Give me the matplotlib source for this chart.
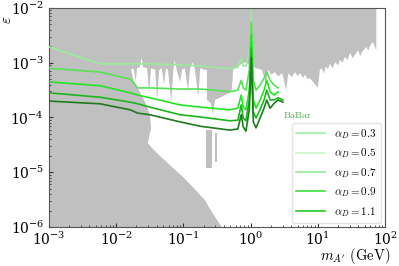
import numpy as np
import matplotlib
matplotlib.use("Agg")
import matplotlib.pyplot as plt
from matplotlib.lines import Line2D

plt.rcParams['mathtext.fontset'] = 'cm'
plt.rcParams['font.family'] = ['DejaVu Serif']

# Excluded region (grey) outline, log10 of mass [GeV] and log10 of epsilon
excl_log_m = [-3.00, -3.00, -0.43, -0.56, -0.68, -0.86, -1.02, -1.20, -1.35, -1.45, -1.53,
              -1.48, -1.50, -1.56, -1.65, -1.74, -1.78,
              -1.74, -1.71, -1.69, -1.65, -1.62, -1.60, -1.54, -1.51, -1.48, -1.42, -1.39,
              -1.36, -1.32, -1.29, -1.26, -1.23, -1.18, -1.15, -1.13, -1.10, -1.05, -1.02,
              -0.98, -0.93, -0.90, -0.86, -0.83, -0.78, -0.75, -0.69, -0.65, -0.65, -0.59,
              -0.56, -0.53, -0.46, -0.38, -0.32, -0.28, -0.26, -0.19, -0.08, -0.01, 0.08,
              0.17, 0.23,
              0.26, 0.31, 0.36, 0.41, 0.47, 0.53, 0.56, 0.61, 0.66, 0.70, 0.74, 0.78, 0.81,
              0.85, 0.88, 0.93, 0.97, 1.00,
              1.03, 1.06, 1.09, 1.12, 1.15, 1.18, 1.22, 1.26, 1.30, 1.33, 1.37, 1.40, 1.44,
              1.48, 1.52, 1.55, 1.60, 1.63, 1.66, 1.72, 1.75, 1.78, 1.82, 1.87, 1.87]
excl_log_eps = [-2.00, -6.00, -6.00, -5.76, -5.51, -5.27, -5.07, -4.87, -4.70, -4.58, -4.47,
                -4.19, -3.95, -3.74, -3.53, -3.32, -3.13,
                -3.10, -3.35, -3.10, -3.08, -2.91, -3.08, -3.10, -3.55, -3.10, -3.13, -3.68,
                -3.13, -3.10, -3.41, -3.10, -3.13, -3.72, -3.13, -2.95, -3.13, -3.35, -3.13,
                -3.10, -3.50, -3.10, -2.99, -3.10, -3.64, -3.10, -3.13, -3.13, -3.68, -3.74,
                -3.95, -3.68, -3.64, -3.59, -3.55, -3.50, -3.13, -3.06, -2.99, -3.04, -3.10,
                -3.13, -3.41,
                -3.13, -3.22, -3.17, -3.25, -3.19, -3.50, -3.19, -3.26, -3.17, -3.24, -3.19,
                -3.28, -3.22, -3.30, -3.28, -3.35, -3.41, -3.46,
                -3.13, -3.10, -3.20, -3.06, -3.12, -3.02, -3.10, -2.99, -3.05, -2.95, -3.00,
                -2.89, -2.95, -2.82, -2.92, -2.86, -2.77, -2.88, -2.80, -2.71, -2.78, -2.68,
                -2.62, -2.77, -2.00]

# small isolated excluded stripes
stripe_log_m = [(-0.66, -0.57), (-0.53, -0.50)]
stripe_log_eps = [(-4.92, -4.23), (-4.81, -4.28)]

# Sensitivity curves
curve_log_m = [-3.00, -2.24, -1.79, -1.68, -1.50, -1.05, -0.75, -0.31, -0.19, -0.14, -0.11,
               -0.07, -0.02, 0.01, 0.04, 0.08, 0.14, 0.20, 0.24, 0.29, 0.35, 0.41, 0.48]
c03 = [-2.71, -3.02, -3.02, -3.02, -3.02, -3.04, -3.06, -3.11, -3.08, -2.91, -3.06, -3.06,
       -2.77, -2.04]
c05 = [-3.10, -3.17, -3.30, -3.46, -3.46, -3.48, -3.48, -3.53, -3.50, -3.32, -3.46, -3.50,
       -3.13, -2.26, -3.32, -3.50, -3.41, -3.28, -3.17, -3.32, -3.41, -3.46]
c07 = [-3.35, -3.42, -3.55, -3.59, -3.64, -3.77, -3.81, -3.86, -3.83, -3.59, -3.81, -3.86,
       -3.50, -2.49, -3.68, -3.83, -3.68, -3.50, -3.32, -3.53, -3.59, -3.53]
c09 = [-3.55, -3.63, -3.72, -3.75, -3.81, -3.95, -3.99, -4.06, -4.05, -3.77, -4.01, -4.06,
       -3.68, -2.73, -3.90, -4.01, -3.86, -3.68, -3.50, -3.68, -3.68, -3.64, -3.68]
c11 = [-3.70, -3.75, -3.86, -3.92, -3.95, -4.08, -4.16, -4.23, -4.21, -3.95, -4.17, -4.25,
       -3.86, -2.91, -4.08, -4.19, -4.01, -3.83, -3.68, -3.83, -3.74, -3.68, -3.72]
alpha_labels = ["0.3", "0.5", "0.7", "0.9", "1.1"]
curves = [c03, c05, c07, c09, c11]
line_colors = ["#9aeb9a", "#55e355", "#22e622", "#1db51d", "#1b7d1b"]
legend_colors = ["#a6f0a6", "#c8f5c8", "#96ec96", "#3be03b", "#25cc25"]

fig = plt.figure(figsize=(3.99, 2.66), dpi=100)
ax = fig.add_axes([0.1228, 0.1466, 0.8422, 0.8234])

ax.fill(10 ** np.array(excl_log_m), 10 ** np.array(excl_log_eps), color="#c0c0c0", lw=0, zorder=1)
for (m0, m1), (e0, e1) in zip(stripe_log_m, stripe_log_eps):
    ax.fill_between([10 ** m0, 10 ** m1], 10 ** e0, 10 ** e1, color="#c0c0c0", lw=0, zorder=1)

for c, col in zip(curves, line_colors):
    n = len(c)
    ax.plot(10 ** np.array(curve_log_m[:n]), 10 ** np.array(c), color=col, lw=1.2, zorder=3)

ax.text(3.0, 1.1e-4, r"$\mathrm{BaBar}$", color="#4fae4f", fontsize=7, va="center", ha="left")

handles = [Line2D([], [], color=col, lw=1.2) for col in legend_colors]
labels = [r"$\alpha_D = %s$" % a for a in alpha_labels]
leg = ax.legend(handles, labels, loc="lower right", fontsize=8, frameon=True,
                handlelength=2.6, labelspacing=0.5, borderaxespad=0.35)
leg.get_frame().set_edgecolor("#dddddd")

ax.set_xscale("log")
ax.set_yscale("log")
ax.set_xlim(1e-3, 1e2)
ax.set_ylim(1e-6, 1e-2)
ax.tick_params(which="both", direction="in", labelsize=10, colors="#333333", labelcolor="black")
ax.tick_params(axis="x", which="major", pad=2.5)
ax.tick_params(which="major", length=3)
ax.tick_params(which="minor", length=1.5)
for s in ax.spines.values():
    s.set_color("#555555")
    s.set_linewidth(0.8)
ax.set_xlabel(r"$m_{A'}\ \mathrm{(GeV)}$", fontsize=10.5, ha="right")
ax.xaxis.set_label_coords(1.015, -0.088)
ax.set_ylabel(r"$\varepsilon$", fontsize=11, rotation=90, va="center")
ax.yaxis.set_label_coords(-0.125, 0.945)

fig.savefig("out.png", dpi=100)
